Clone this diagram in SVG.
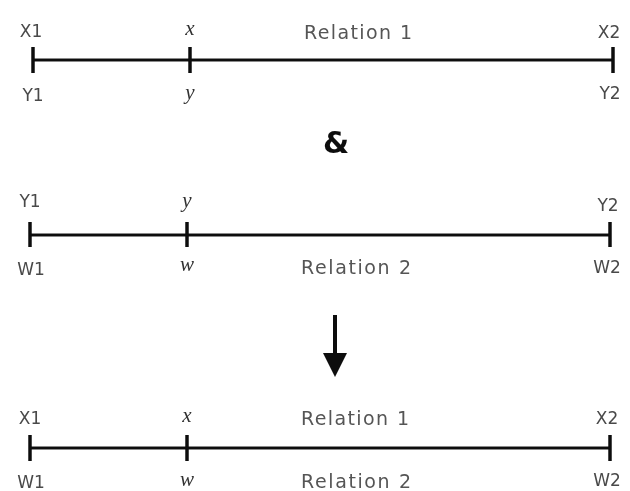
<svg xmlns="http://www.w3.org/2000/svg" width="630" height="491" viewBox="0 0 630 491">
  <style>
    .axis { stroke: #111; stroke-width: 3; fill: none; }
    .tick { stroke: #111; stroke-width: 3.5; fill: none; }
    .lbl { font-family: "DejaVu Sans", "Liberation Sans", sans-serif; font-size: 17px; fill: #4a4a4a; text-anchor: middle; }
    .var { font-family: "Liberation Serif", "DejaVu Serif", serif; font-style: italic; font-size: 21px; fill: #333; text-anchor: middle; }
    .rel { font-family: "DejaVu Sans", "Liberation Sans", sans-serif; font-size: 19px; fill: #555; }
  </style>
  <defs>
    <filter id="soft" x="-5%" y="-5%" width="110%" height="110%">
      <feGaussianBlur stdDeviation="0.5"/>
    </filter>
  </defs>
  <rect width="630" height="491" fill="#fff"/>

  <g filter="url(#soft)">
    <!-- Relation 1: X -> Y -->
    <g id="relation1">
      <line class="axis" x1="33" y1="60" x2="613" y2="60"/>
      <line class="tick" x1="33" y1="47" x2="33" y2="73"/>
      <line class="tick" x1="190" y1="47" x2="190" y2="73"/>
      <line class="tick" x1="613" y1="47" x2="613" y2="73"/>
      <text class="lbl" x="31" y="37">X1</text>
      <text class="var" x="190" y="35">x</text>
      <text class="rel" x="304" y="39" textLength="108">Relation 1</text>
      <text class="lbl" x="609" y="38">X2</text>
      <text class="lbl" x="33" y="101">Y1</text>
      <text class="var" x="190" y="99">y</text>
      <text class="lbl" x="610" y="99">Y2</text>
    </g>

    <text id="and" x="336" y="153" font-family="DejaVu Sans, sans-serif" font-size="30" font-weight="bold" fill="#111" text-anchor="middle">&amp;</text>

    <!-- Relation 2: Y -> W -->
    <g id="relation2">
      <line class="axis" x1="30" y1="235" x2="610" y2="235"/>
      <line class="tick" x1="30" y1="222" x2="30" y2="247"/>
      <line class="tick" x1="187" y1="222" x2="187" y2="247"/>
      <line class="tick" x1="610" y1="222" x2="610" y2="247"/>
      <text class="lbl" x="30" y="207">Y1</text>
      <text class="var" x="187" y="207">y</text>
      <text class="lbl" x="608" y="211">Y2</text>
      <text class="lbl" x="31" y="275">W1</text>
      <text class="var" x="187" y="271">w</text>
      <text class="rel" x="301" y="274" textLength="110">Relation 2</text>
      <text class="lbl" x="607" y="273">W2</text>
    </g>

    <g id="connectors">
      <line x1="335" y1="315" x2="335" y2="356" stroke="#111" stroke-width="4"/>
      <polygon points="323,353 347,353 335,377" fill="#111"/>
    </g>

    <!-- Composed: X -> W -->
    <g id="composition">
      <line class="axis" x1="30" y1="448" x2="610" y2="448"/>
      <line class="tick" x1="30" y1="435" x2="30" y2="461"/>
      <line class="tick" x1="187" y1="435" x2="187" y2="461"/>
      <line class="tick" x1="610" y1="435" x2="610" y2="461"/>
      <text class="lbl" x="30" y="424">X1</text>
      <text class="var" x="187" y="422">x</text>
      <text class="rel" x="301" y="425" textLength="108">Relation 1</text>
      <text class="lbl" x="607" y="424">X2</text>
      <text class="lbl" x="31" y="488">W1</text>
      <text class="var" x="187" y="486">w</text>
      <text class="rel" x="301" y="488" textLength="110">Relation 2</text>
      <text class="lbl" x="607" y="486">W2</text>
    </g>
  </g>
</svg>
